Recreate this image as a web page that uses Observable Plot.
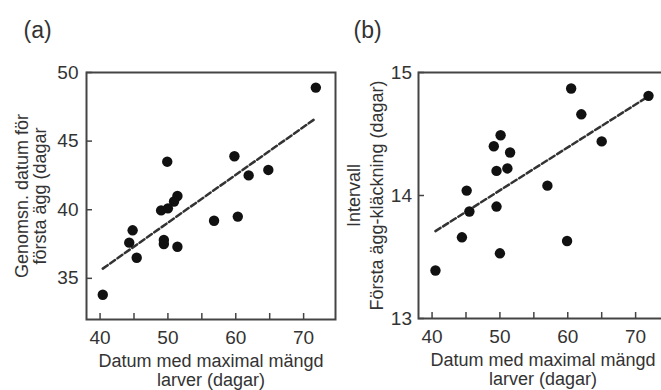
<!DOCTYPE html>
<html><head><meta charset="utf-8">
<script src="https://cdn.jsdelivr.net/npm/d3@7"></script>
<script src="https://cdn.jsdelivr.net/npm/@observablehq/plot@0.6"></script>
<style>
html,body{margin:0;padding:0;background:#fff;overflow:hidden}
#chart{position:relative;width:661px;height:390px;overflow:hidden;background:#fff}
#chart svg{position:absolute;top:0}
</style></head><body><div id="chart"></div>
<script>
// Panel (a)
const peakLarvaeA = [71.8, 49.9, 59.8, 61.9, 64.8, 51.4, 50.9, 50.0, 49.0, 56.8, 60.3, 44.8, 44.3, 49.4, 49.4, 51.4, 45.4, 40.4];
const firstEggA   = [48.9, 43.5, 43.9, 42.5, 42.9, 41.0, 40.6, 40.1, 39.95, 39.2, 39.5, 38.5, 37.6, 37.8, 37.5, 37.3, 36.5, 33.8];
// Panel (b)
const peakLarvaeB = [60.5, 71.9, 62.0, 65.0, 50.1, 49.1, 51.5, 49.5, 51.1, 57.0, 45.1, 45.5, 49.5, 44.4, 59.9, 50.0, 40.5];
const hatchIntervalB = [14.87, 14.81, 14.66, 14.44, 14.49, 14.40, 14.35, 14.20, 14.22, 14.08, 14.04, 13.87, 13.91, 13.66, 13.63, 13.53, 13.39];

const xTicks = [40, 45, 50, 55, 60, 65, 70];
const xTickLabels = [40, 50, 60, 70];
const yTicksA = [35, 40, 45, 50];
const yTicksB = [13, 14, 15];
const xTitle = "Datum med maximal mängd\nlarver (dagar)";
const yTitleA = "Genomsn. datum för\nförsta ägg (dagar";
const yTitleB = "Intervall\nFörsta ägg-kläckning (dagar)";

function panel({xs, ys, width, left, marginLeft, marginRight, marginBottom, yDomain, yTicks, yTitle, yLineHeight, yPad, tag, tagDx}) {
  const data = xs.map((d, i) => ({x: d, y: ys[i]}));
  const svg = Plot.plot({
    width, height: 390, marginLeft, marginRight, marginTop: 72, marginBottom,
    style: {fontFamily: "'Liberation Sans', Arial, sans-serif", color: "#333", background: "transparent", overflow: "visible"},
    x: {domain: [38, 74.7], label: null},
    y: {domain: yDomain, label: null},
    marks: [
      Plot.linearRegressionY(data, {x: "x", y: "y", ci: 0, stroke: "#333", strokeWidth: 2.5, strokeDasharray: "6,3"}),
      Plot.dot(data, {x: "x", y: "y", r: 5.2, fill: "#111", stroke: null}),
      Plot.axisX(xTicks, {tickSize: -6, tickFormat: () => "", stroke: "#444", strokeWidth: 1.5, label: null}),
      Plot.axisX(xTickLabels, {tickSize: 0, tickPadding: 11, tickFormat: d => String(d), fontSize: 19, fill: "#333", label: null}),
      Plot.axisY(yTicks, {tickSize: -6, tickFormat: () => "", stroke: "#444", strokeWidth: 1.5, label: null}),
      Plot.axisY(yTicks, {tickSize: 0, tickPadding: yPad, tickFormat: d => String(d), fontSize: 19, fill: "#333", label: null}),
      Plot.frame({stroke: "#444", strokeWidth: 2}),
      Plot.text([xTitle], {frameAnchor: "bottom", dy: 33, textAnchor: "middle", lineAnchor: "top", lineHeight: 1.1, fontSize: 18, fill: "#333"}),
      Plot.text([yTitle], {frameAnchor: "left", dx: -54.8, rotate: -90, textAnchor: "middle", lineAnchor: "middle", lineHeight: yLineHeight, fontSize: 18, fill: "#333"}),
      Plot.text([tag], {frameAnchor: "top-left", dx: tagDx, dy: -35, textAnchor: "start", lineAnchor: "bottom", fontSize: 23, fill: "#333"})
    ]
  });
  svg.style.left = left + "px";
  return svg;
}

const chart = document.getElementById("chart");
chart.append(panel({xs: peakLarvaeA, ys: firstEggA, width: 336, left: 0, marginLeft: 86, marginRight: 1, marginBottom: 71,
  yDomain: [32, 50], yTicks: yTicksA, yTitle: yTitleA, yLineHeight: 1.0, yPad: 8, tag: "(a)", tagDx: -63}));
chart.append(panel({xs: peakLarvaeB, ys: hatchIntervalB, width: 340, left: 330, marginLeft: 88, marginRight: 3, marginBottom: 72,
  yDomain: [13, 15], yTicks: yTicksB, yTitle: yTitleB, yLineHeight: 1.28, yPad: 6.5, tag: "(b)", tagDx: -65}));
</script></body></html>
